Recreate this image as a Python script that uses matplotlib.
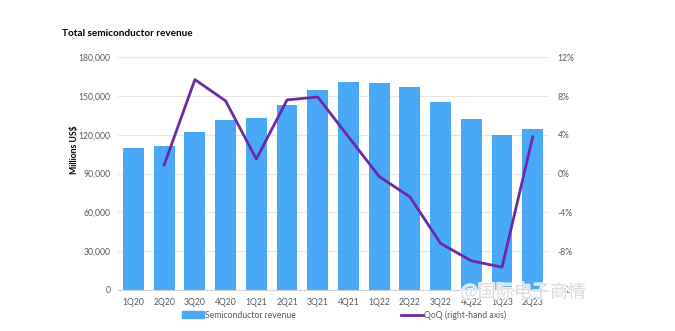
import matplotlib
matplotlib.use("Agg")
import matplotlib.pyplot as plt
import matplotlib.patheffects as pe
from matplotlib.lines import Line2D
from matplotlib.patches import Patch

plt.rcParams['font.family'] = ['Lato', 'DejaVu Sans']

quarters = ["1Q20", "2Q20", "3Q20", "4Q20", "1Q21", "2Q21", "3Q21", "4Q21",
            "1Q22", "2Q22", "3Q22", "4Q22", "1Q23", "2Q23"]
revenue = [110000, 111100, 122000, 131200, 133300, 143300, 154900, 161100,
           160300, 157000, 145200, 132500, 119600, 124300]
qoq = [None, 0.9, 9.7, 7.5, 1.5, 7.6, 7.9, 3.8, -0.3, -2.4, -7.2, -9.0, -9.65, 3.8]
left_ticks = [0, 30000, 60000, 90000, 120000, 150000, 180000]
right_ticks = [-12, -8, -4, 0, 4, 8, 12]

bar_color = "#49a9f6"
line_color = "#6a2aa4"
text_color = "#595959"
fs = 6.2

fig = plt.figure(figsize=(6.75, 3.31), dpi=100)
ax = fig.add_axes([0.175, 0.124, 0.637, 0.703])
x = list(range(len(quarters)))
ax.bar(x, revenue, width=0.68, color=bar_color, zorder=2)
ax.set_xlim(-0.5, len(quarters) - 0.5)
ax.set_ylim(0, 180000)
ax.set_yticks(left_ticks)
ax.set_yticklabels([f"{v:,}" for v in left_ticks])
ax.set_xticks(x)
ax.set_xticklabels(quarters)
ax.tick_params(axis='both', length=0, labelsize=fs, colors=text_color)
ax.tick_params(axis='y', pad=5.5)
ax.tick_params(axis='x', pad=5.5)
ax.grid(axis='y', color="#e6e6e6", linewidth=0.8, zorder=0)
for s in ['top', 'right', 'left']:
    ax.spines[s].set_visible(False)
ax.spines['bottom'].set_color("#d0d0d0")

fig.text(75 / 675, 1 - 150 / 331, "Millions US$", fontsize=fs, fontweight='bold',
         color="black", rotation=90, ha='center', va='center')

ax2 = ax.twinx()
qx = [i for i, v in enumerate(qoq) if v is not None]
qy = [v for v in qoq if v is not None]
ax2.plot(qx, qy, color=line_color, linewidth=2.0, zorder=3)
ax2.set_ylim(-12, 12)
ax2.set_yticks(right_ticks)
ax2.set_yticklabels([f"{v}%" for v in right_ticks])
ax2.tick_params(axis='y', length=0, labelsize=fs, colors=text_color, pad=7)
for s in ['top', 'right', 'left', 'bottom']:
    ax2.spines[s].set_visible(False)

fig.text(62 / 675, 1 - 33 / 331, "Total semiconductor revenue", fontsize=7.2,
         fontweight='bold', color="black", ha='left', va='center')

leg1 = fig.legend([Patch(color=bar_color)], ["Semiconductor revenue"],
                  loc='center left', bbox_to_anchor=(174 / 675, 1 - 315 / 331),
                  frameon=False, fontsize=fs, labelcolor=text_color,
                  handlelength=2.6, handleheight=0.75, handletextpad=0.15)
leg2 = fig.legend([Line2D([0], [0], color=line_color, linewidth=2)],
                  ["QoQ (right-hand axis)"],
                  loc='center left', bbox_to_anchor=(393 / 675, 1 - 315 / 331),
                  frameon=False, fontsize=fs, labelcolor=text_color,
                  handlelength=2.6, handletextpad=0.15)

fig.text(0.775, 0.118, "@国际电子商情", fontsize=13,
         family=['Noto Sans CJK SC', 'DejaVu Sans'], color="#d8d8d8", alpha=0.9,
         ha='center', va='center', zorder=10,
         path_effects=[pe.withStroke(linewidth=1.5, foreground="white")])

fig.savefig("out.png", dpi=100)
